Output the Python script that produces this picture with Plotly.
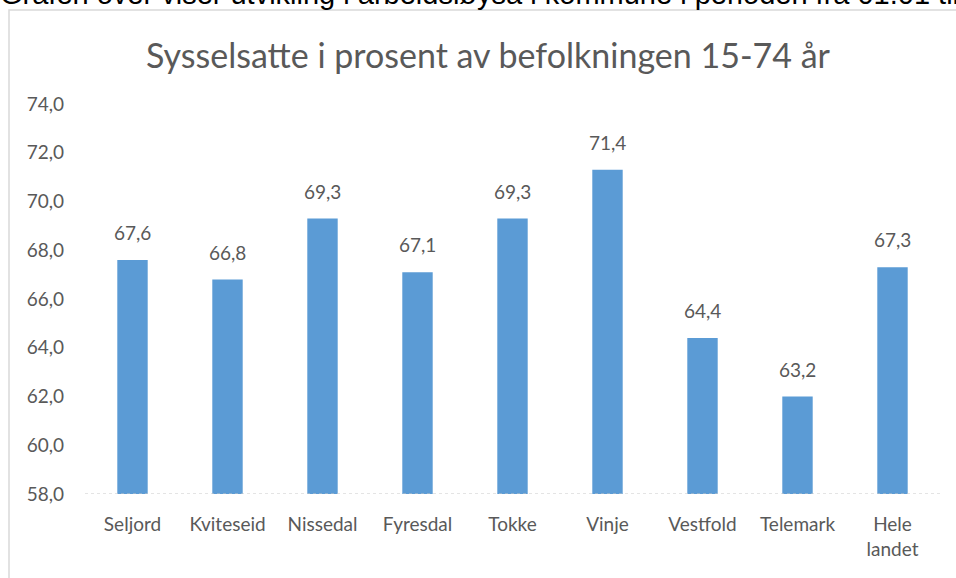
import plotly.graph_objects as go

categories = ["Seljord", "Kviteseid", "Nissedal", "Fyresdal", "Tokke", "Vinje",
              "Vestfold", "Telemark", "Hele<br>landet"]
# bar heights as drawn in the picture (Telemark's bar is drawn lower than its label)
bar_values = [67.6, 66.8, 69.3, 67.1, 69.3, 71.3, 64.4, 62.0, 67.3]
# data labels as printed in the picture
label_values = [67.6, 66.8, 69.3, 67.1, 69.3, 71.4, 64.4, 63.2, 67.3]
y_ticks = [58, 60, 62, 64, 66, 68, 70, 72, 74]

title_text = "Sysselsatte i prosent av befolkningen 15-74 år"
top_text = "Grafen over viser utvikling i arbeidsløysa i kommune i perioden frå 01.01 til 31.12"

L, R, T, B = 85, 16, 104, 84
W, H = 956, 578
pw, ph = W - L - R, H - T - B

def px_x(px):
    return (px - L) / pw

def px_y(py):
    return (H - B - py) / ph

grey = "#595959"
font = "Lato"

fig = go.Figure()
fig.add_trace(go.Bar(
    x=categories, y=bar_values,
    marker=dict(color="#5B9BD5", line=dict(width=0)),
    hoverinfo="skip",
))

for c, v, lab in zip(categories, bar_values, label_values):
    fig.add_annotation(
        x=c, y=v, xref="x", yref="y",
        text=f"{lab:.1f}".replace(".", ","),
        showarrow=False, yanchor="bottom", yshift=14,
        font=dict(family=font, size=19, color=grey),
    )

fig.add_annotation(
    x=px_x(488), y=px_y(54), xref="paper", yref="paper",
    text=title_text, showarrow=False, xanchor="center", yanchor="middle",
    font=dict(family=font, size=34, color=grey),
)

fig.add_annotation(
    x=px_x(-2), y=px_y(12), xref="paper", yref="paper",
    text=top_text, showarrow=False, xanchor="left", yanchor="bottom",
    font=dict(family="Liberation Sans", size=29, color="#000000"),
)

fig.add_shape(
    type="rect", xref="paper", yref="paper",
    x0=px_x(9), x1=px_x(965), y0=px_y(585), y1=px_y(10),
    line=dict(color="#d9d9d9", width=1.5), fillcolor="rgba(0,0,0,0)", layer="below",
)
fig.add_shape(
    type="line", xref="paper", yref="y", x0=0, x1=1, y0=58, y1=58,
    line=dict(color="#c8c8c8", width=1, dash="dot"),
)

fig.update_layout(
    width=W, height=H,
    margin=dict(l=L, r=R, t=T, b=B),
    paper_bgcolor="white", plot_bgcolor="white",
    separators=", ",
    showlegend=False,
    bargap=0.68,
    xaxis=dict(
        showgrid=False, showline=False, zeroline=False, ticks="",
        tickfont=dict(family=font, size=19, color=grey),
        ticklabelstandoff=17,
    ),
    yaxis=dict(
        range=[58, 74], tickvals=y_ticks, tickformat=".1f",
        showgrid=False, showline=False, zeroline=False, ticks="",
        tickfont=dict(family=font, size=19, color=grey),
        ticklabelstandoff=20,
    ),
)

fig.write_html("out.html", config={"displayModeBar": False},
               post_script="document.body.style.margin='0';")
